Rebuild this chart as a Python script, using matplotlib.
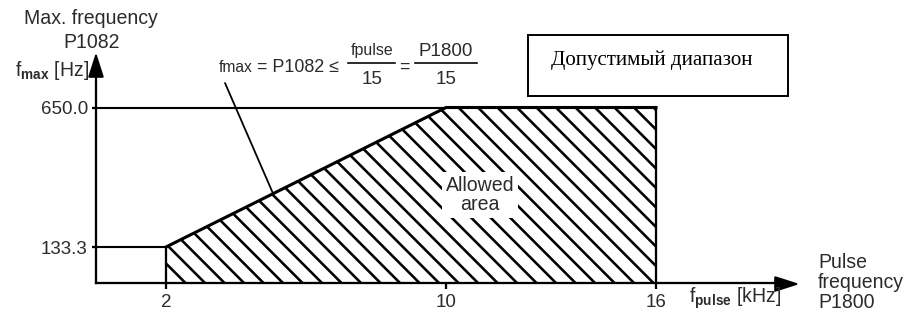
import numpy as np
import matplotlib
matplotlib.use("Agg")
import matplotlib.pyplot as plt
from matplotlib.patches import Polygon, Rectangle
from matplotlib.lines import Line2D
from matplotlib.transforms import Affine2D

plt.rcParams['font.family'] = ['Liberation Sans', 'DejaVu Sans']
plt.rcParams['mathtext.fontset'] = 'custom'
plt.rcParams['mathtext.rm'] = 'Liberation Sans'
plt.rcParams['mathtext.it'] = 'Liberation Sans'
plt.rcParams['mathtext.bf'] = 'Liberation Sans:bold'
plt.rcParams['hatch.linewidth'] = 1.6

# data
pulse_khz = [2, 10, 16]
fmax_hz = [133.3, 650.0, 650.0]
x_ticks = [2, 10, 16]
x_tick_labels = ["2", "10", "16"]
y_ticks = [133.3, 650.0]
y_tick_labels = ["133.3", "650.0"]

W, H, DPI = 907, 323, 117
TXT = '#2b2b2b'

fig = plt.figure(figsize=(W / DPI, H / DPI), dpi=DPI)
# pixel coords, origin top-left
pix = Affine2D().scale(1, -1).translate(0, H)

# axes: origin at (96, 283) px, 35 px per kHz, 0.27 px per Hz
x0, y0, x1, y1 = 96, 283, 775, 77
ax = fig.add_axes([x0 / W, (H - y0) / H, (x1 - x0) / W, (y0 - y1) / H])
ax.set_xlim(0, (x1 - x0) / 35)
ax.set_ylim(0, (y0 - y1) / 0.27)
ax.patch.set_visible(False)
for s in ['top', 'right']:
    ax.spines[s].set_visible(False)
for s in ['left', 'bottom']:
    ax.spines[s].set_linewidth(1.4)
    ax.spines[s].set_capstyle('projecting')

ax.set_xticks(x_ticks, x_tick_labels)
ax.set_yticks(y_ticks, y_tick_labels)
ax.tick_params(axis='x', length=3.8, width=1.4, pad=3, labelsize=11.5, labelcolor=TXT)
ax.tick_params(axis='y', length=2.5, width=1.4, pad=2.5, labelsize=11.5, labelcolor=TXT)

# allowed area
ax.fill_between(pulse_khz, 0, fmax_hz, facecolor='white', edgecolor='black',
                hatch='\\\\', linewidth=0)
ax.plot(pulse_khz, fmax_hz, color='black', lw=1.9, solid_capstyle='projecting')
ax.vlines([pulse_khz[0], pulse_khz[-1]], 0, [fmax_hz[0], fmax_hz[-1]], color='black', lw=1.4)
ax.hlines(fmax_hz[0], 0, pulse_khz[0], color='black', lw=1.3)
ax.hlines(fmax_hz[1], 0, pulse_khz[1], color='black', lw=1.3)

# arrow heads
fig.add_artist(Polygon([(96, 55), (89, 77), (103, 77)], closed=True, color='black', transform=pix))
fig.add_artist(Polygon([(797, 284), (775, 277), (775, 291)], closed=True, color='black', transform=pix))

# axis titles
fig.text(91, 18, "Max. frequency", transform=pix, ha='center', va='center', fontsize=12, color=TXT)
fig.text(92, 42, "P1082", transform=pix, ha='center', va='center', fontsize=12, color=TXT)
fig.text(15, 70, r'f$_{\mathbf{max}}$ [Hz]', transform=pix, ha='left', va='center', fontsize=12, color=TXT)
fig.text(818, 263, "Pulse", transform=pix, ha='left', va='center', fontsize=12, color=TXT)
fig.text(818, 282, "frequency", transform=pix, ha='left', va='center', fontsize=12, color=TXT)
fig.text(818, 302, "P1800", transform=pix, ha='left', va='center', fontsize=12, color=TXT)
fig.text(689, 298, r'f$_{\mathbf{pulse}}$ [kHz]', transform=pix, ha='left', va='center', fontsize=12, color=TXT)

# formula
fig.text(219, 72, "fmax", transform=pix, ha='left', va='baseline', fontsize=9.6, color=TXT)
fig.text(257, 72, "= P1082 \u2264", transform=pix, ha='left', va='baseline', fontsize=11, color=TXT)
fig.text(372, 51, "fpulse", transform=pix, ha='center', va='center', fontsize=9.8, color=TXT)
fig.text(372, 80, "15", transform=pix, ha='center', va='center', fontsize=11.5, color=TXT)
fig.text(404, 72, "=", transform=pix, ha='center', va='baseline', fontsize=11, color=TXT)
fig.text(446, 51, "P1800", transform=pix, ha='center', va='center', fontsize=11.5, color=TXT)
fig.text(446, 80, "15", transform=pix, ha='center', va='center', fontsize=11.5, color=TXT)
fig.add_artist(Line2D([348, 395], [63, 63], color='black', lw=1.0, transform=pix))
fig.add_artist(Line2D([415, 477], [63, 63], color='black', lw=1.0, transform=pix))

# leader line from formula to the slope
lx = 5.06
ax.annotate('', xy=(lx, np.interp(lx, pulse_khz, fmax_hz)), xycoords='data',
            xytext=(225, 83), textcoords=pix,
            arrowprops=dict(arrowstyle='-', color='black', lw=1.1, shrinkA=0, shrinkB=0))

# "Allowed area"
fig.text(480, 195, "Allowed\narea", transform=pix, ha='center', va='center', fontsize=12,
         color=TXT, linespacing=1.05,
         bbox=dict(facecolor='white', edgecolor='none', pad=2))

# Russian caption box
fig.add_artist(Rectangle((528, 35), 260, 61, fill=False, edgecolor='black', lw=1.2, transform=pix))
fig.text(551, 60, "Допустимый диапазон", transform=pix, ha='left', va='center',
         fontsize=12.9, family='Liberation Serif', color='black')

fig.savefig("out.png", dpi=DPI)
